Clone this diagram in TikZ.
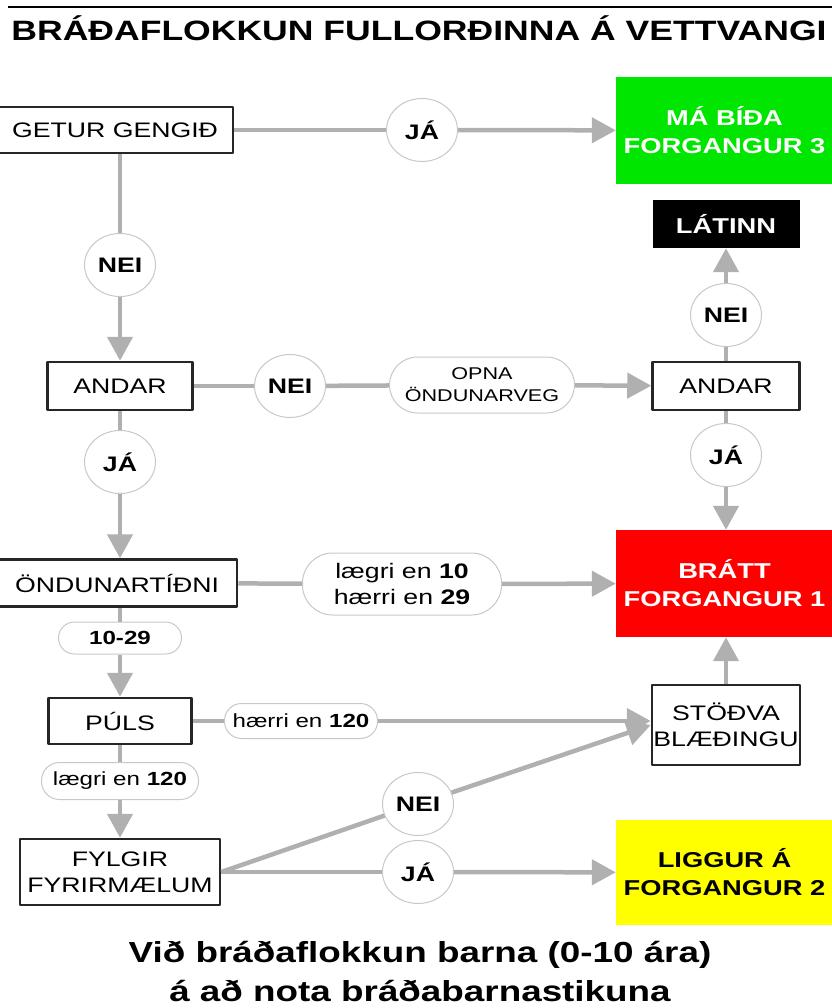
\documentclass[tikz,border=0pt]{standalone}
\usepackage{fontspec}
\usepackage{tikz}
\usetikzlibrary{arrows.meta}
\usetikzlibrary{shapes.geometric}
\newfontfamily\vidd[FakeStretch=1.27]{Liberation Sans}
\definecolor{linugra}{RGB}{176,176,176}
\definecolor{hringgra}{RGB}{200,200,200}
\definecolor{graenn}{RGB}{0,230,0}
\definecolor{raudur}{RGB}{255,0,0}
\definecolor{gulur}{RGB}{255,255,0}
\tikzset{
  kassi/.style={draw=black!85,line width=2.5pt,fill=white,inner sep=0pt,align=center,font=\vidd\fontsize{21}{26}\selectfont},
  litkassi/.style={inner sep=0pt,align=center,text=white,minimum width=217,font=\vidd\bfseries\fontsize{21.5}{28}\selectfont},
  svar/.style={ellipse,draw=hringgra,line width=1pt,fill=white,minimum width=71,minimum height=63,inner sep=0pt,font=\vidd\bfseries\fontsize{21}{26}\selectfont},
  skilyrdi/.style={draw=hringgra,line width=1pt,fill=white,inner sep=0pt,align=center,font=\vidd\fontsize{19}{26}\selectfont},
  leid/.style={draw=linugra,line width=4.5pt}
}
\begin{document}
\begin{tikzpicture}[x=1pt,y=-1pt,line join=round,>={Triangle[length=24pt,width=25pt]}]
        \useasboundingbox (0,0) rectangle (831,1008);
        \draw[line width=2pt] (8,7) -- (840,7);
        \node[anchor=base,font=\vidd\bfseries\fontsize{28}{34}\selectfont] (titill) at (419,41) {BRÁÐAFLOKKUN FULLORÐINNA Á VETTVANGI};
        % kassar
        \node[kassi,minimum width=236,minimum height=46] (getur) at (115,130) {GETUR GENGIÐ};
        \node[litkassi,fill=graenn,minimum height=107] (mabida) at (724.5,130.5) {MÁ BÍÐA\\FORGANGUR 3};
        \node[litkassi,fill=black,minimum width=147,minimum height=48] (latinn) at (726,224) {LÁTINN};
        \node[kassi,minimum width=145,minimum height=48] (andarL) at (120,386) {ANDAR};
        \node[kassi,minimum width=147,minimum height=48] (andarR) at (726,386) {ANDAR};
        \node[litkassi,fill=raudur,minimum height=107] (bratt) at (724.5,583.5) {BRÁTT\\FORGANGUR 1};
        \node[kassi,minimum width=240,minimum height=47] (ondun) at (117,583) {ÖNDUNARTÍÐNI};
        \node[kassi,minimum width=143,minimum height=46] (puls) at (120,721) {PÚLS};
        \node[kassi,minimum width=148,minimum height=80] (stodva) at (726,725) {STÖÐVA\\BLÆÐINGU};
        \node[kassi,minimum width=200,minimum height=66] (fylgir) at (120,872) {FYLGIR\\FYRIRMÆLUM};
        \node[litkassi,fill=gulur,text=black,minimum height=105] (liggur) at (724.5,872.5) {LIGGUR Á\\FORGANGUR 2};
        % svor
        \node[svar] (ja1) at (422,130) {JÁ};
        \node[svar] (nei1) at (120,265) {NEI};
        \node[svar] (nei2) at (290,386) {NEI};
        \node[svar] (nei3) at (726,315) {NEI};
        \node[svar] (ja2) at (726,455) {JÁ};
        \node[svar] (ja4) at (120,462) {JÁ};
        \node[svar] (nei4) at (418,804) {NEI};
        \node[svar] (ja3) at (418,872) {JÁ};
        % skilyrdi
        \node[skilyrdi,rounded corners=28,minimum width=185,minimum height=56,font=\vidd\fontsize{17}{22}\selectfont] (opna) at (482,385) {OPNA\\ÖNDUNARVEG};
        \node[skilyrdi,rounded corners=30,minimum width=199,minimum height=62,font=\vidd\fontsize{21}{26}\selectfont] (laegri10) at (402,584) {lægri en \textbf{10}\\hærri en \textbf{29}};
        \node[skilyrdi,rounded corners=16,minimum width=123,minimum height=32,font=\vidd\bfseries\fontsize{19}{26}\selectfont] (p1029) at (120,638) {10-29};
        \node[skilyrdi,rounded corners=17,minimum width=153,minimum height=35] (h120) at (301,721) {hærri en \textbf{120}};
        \node[skilyrdi,rounded corners=18,minimum width=157,minimum height=37] (l120) at (120,781) {lægri en \textbf{120}};
        % leidir
        \draw[leid] (getur) -- (ja1);
        \draw[leid,->] (ja1) -- (mabida);
        \draw[leid] (nei1 |- getur.south) -- (nei1);
        \draw[leid,->] (nei1) -- (andarL);
        \draw[leid] (andarL) -- (nei2);
        \draw[leid] (nei2) -- (opna);
        \draw[leid,->] (opna) -- (andarR);
        \draw[leid] (andarR) -- (nei3);
        \draw[leid,->] (nei3) -- (latinn);
        \draw[leid] (andarR) -- (ja2);
        \draw[leid,->] (ja2) -- (ja2 |- bratt.north);
        \draw[leid] (andarL) -- (ja4);
        \draw[leid,->] (ja4) -- (ja4 |- ondun.north);
        \draw[leid] (ondun) -- (laegri10);
        \draw[leid,->] (laegri10) -- (bratt);
        \draw[leid] (p1029 |- ondun.south) -- (p1029);
        \draw[leid,->] (p1029) -- (puls);
        \draw[leid] (puls) -- (h120);
        \draw[leid,->] (h120) -- (h120 -| stodva.west);
        \draw[leid,->] (stodva) -- (stodva |- bratt.south);
        \draw[leid] (puls) -- (l120);
        \draw[leid,->] (l120) -- (fylgir);
        \draw[leid] (fylgir.east) -- (nei4);
        \draw[leid,->] (nei4) -- (stodva.west);
        \draw[leid] (fylgir) -- (ja3);
        \draw[leid,->] (ja3) -- (liggur);
        % nedst
        \node[anchor=base,font=\vidd\bfseries\fontsize{29}{40}\selectfont] (nedst1) at (420,962) {Við bráðaflokkun barna (0-10 ára)};
        \node[anchor=base,font=\vidd\bfseries\fontsize{29}{40}\selectfont] (nedst2) at (420,1001) {á að nota bráðabarnastikuna};
\end{tikzpicture}
\end{document}
